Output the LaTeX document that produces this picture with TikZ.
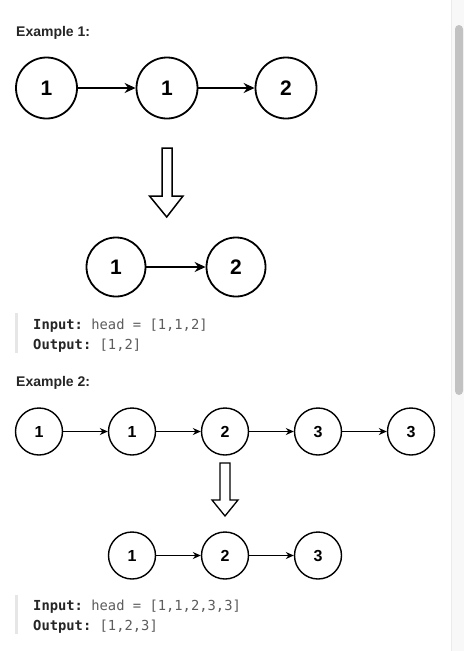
\documentclass[tikz,border=0pt]{standalone}
\usepackage{fontspec}
\setmainfont{Liberation Sans}
\setmonofont{DejaVu Sans Mono}
\usetikzlibrary{arrows.meta}
\definecolor{txtdark}{HTML}{262626}
\definecolor{codegrey}{HTML}{5C5C5C}
\definecolor{quotebar}{HTML}{E6E6E6}
\definecolor{tracktint}{HTML}{F8F8F8}
\definecolor{trackline}{HTML}{EBEBEB}
\definecolor{thumbgrey}{HTML}{C2C2C2}
\tikzset{
  bignode/.style={circle,draw,line width=1.8pt,minimum size=61pt,inner sep=0pt,font=\fontsize{21}{21}\selectfont\bfseries},
  smallnode/.style={circle,draw,line width=1.4pt,minimum size=47pt,inner sep=0pt,font=\fontsize{16}{16}\selectfont\bfseries},
  bigarr/.style={line width=1.5pt,-{Stealth[length=11pt,width=10pt]}},
  smallarr/.style={line width=1.2pt,-{Stealth[length=8pt,width=7pt]}},
  hollow/.style={line width=1.5pt,line join=miter,fill=white},
  heading/.style={anchor=base west,inner sep=0pt,text=txtdark,font=\fontsize{14}{14}\selectfont\bfseries},
  codeline/.style={anchor=base west,inner sep=0pt,text=codegrey,font=\fontsize{13.8}{13.8}\selectfont\ttfamily}
}
\begin{document}
\begin{tikzpicture}[x=1pt,y=-1pt,line cap=round,line join=round]
\useasboundingbox (0,0) rectangle (464,651);
\fill[white] (0,0) rectangle (464,651);
% scrollbar
\fill[tracktint] (451,0) rectangle (464,651);
\draw[trackline,line width=1pt] (451,0) -- (451,651);
\fill[thumbgrey,rounded corners=4pt] (455,25) rectangle (463,395);
% example 1
\node[heading] (ex1) at (16,36) {Example 1:};
\node[bignode] (a1) at (46.5,88) {1};
\node[bignode] (a2) at (167,88) {1};
\node[bignode] (a3) at (286,88) {2};
\draw[bigarr] (a1) -- (a2);
\draw[bigarr] (a2) -- (a3);
\draw[hollow] (162,148) -- (172,148) -- (172,196) -- (183,196) -- (166.7,217) -- (149.5,196) -- (162,196) -- cycle;
\node[bignode,minimum size=59pt] (b1) at (116,267) {1};
\node[bignode,minimum size=59pt] (b2) at (236,267) {2};
\draw[bigarr] (b1) -- (b2);
\fill[quotebar] (15,313) rectangle (17.5,353);
\node[codeline] (in1) at (33,329) {\textbf{\color{txtdark}Input:} head = [1,1,2]};
\node[codeline] (out1) at (33,349) {\textbf{\color{txtdark}Output:} [1,2]};
% example 2
\node[heading] (ex2) at (16,386) {Example 2:};
\node[smallnode] (c1) at (39,431.5) {1};
\node[smallnode] (c2) at (132,431.5) {1};
\node[smallnode] (c3) at (225,431.5) {2};
\node[smallnode] (c4) at (318,431.5) {3};
\node[smallnode] (c5) at (411,431.5) {3};
\draw[smallarr] (c1) -- (c2);
\draw[smallarr] (c2) -- (c3);
\draw[smallarr] (c3) -- (c4);
\draw[smallarr] (c4) -- (c5);
\draw[hollow,line width=1.3pt] (220,463) -- (230,463) -- (230,500) -- (238,500) -- (225,516) -- (212,500) -- (220,500) -- cycle;
\node[smallnode] (d1) at (132,555.5) {1};
\node[smallnode] (d2) at (225,555.5) {2};
\node[smallnode] (d3) at (318,555.5) {3};
\draw[smallarr] (d1) -- (d2);
\draw[smallarr] (d2) -- (d3);
\fill[quotebar] (15,595) rectangle (17.5,634);
\node[codeline] (in2) at (33,610) {\textbf{\color{txtdark}Input:} head = [1,1,2,3,3]};
\node[codeline] (out2) at (33,630) {\textbf{\color{txtdark}Output:} [1,2,3]};
\end{tikzpicture}
\end{document}
